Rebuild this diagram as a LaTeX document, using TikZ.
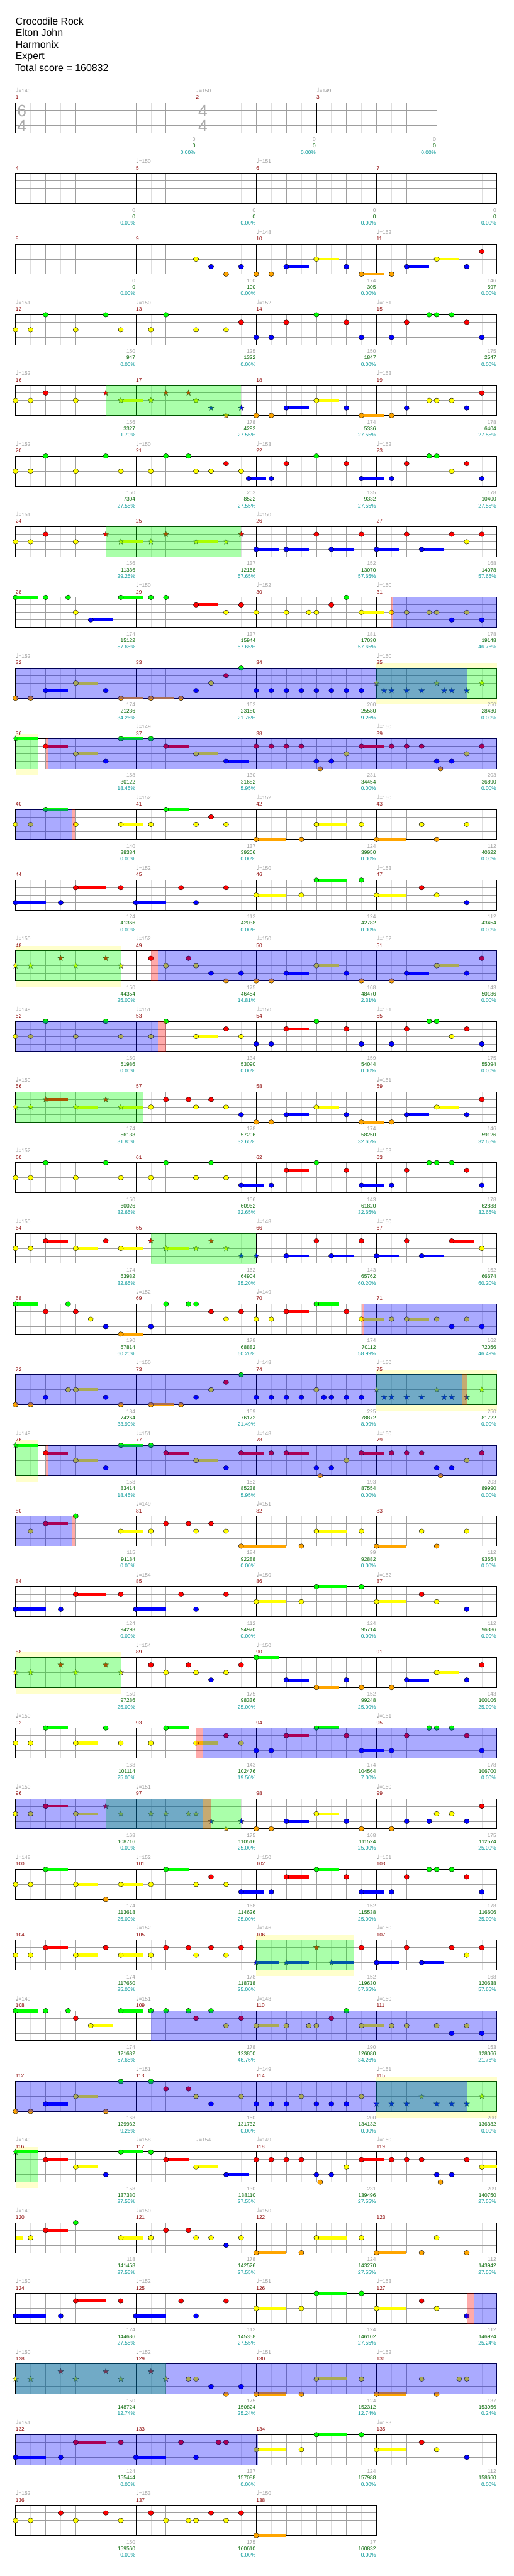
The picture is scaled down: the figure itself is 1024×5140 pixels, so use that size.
\documentclass[tikz,border=0pt]{standalone}
\usepackage{fontspec}
\setmainfont{Liberation Sans}
\newfontfamily\simboli{DejaVu Sans}
\usetikzlibrary{shapes.geometric}

\definecolor{corsia0}{RGB}{0,255,0}
\definecolor{corsia1}{RGB}{255,0,0}
\definecolor{corsia2}{RGB}{255,255,0}
\definecolor{corsia3}{RGB}{0,0,255}
\definecolor{corsia4}{RGB}{255,165,0}
\definecolor{rossobattuta}{RGB}{139,0,0}
\definecolor{verdepunti}{RGB}{0,100,0}
\definecolor{turchese}{RGB}{0,150,150}
\definecolor{grigiotesto}{RGB}{155,155,155}
\definecolor{grigiolinea}{RGB}{158,158,158}
\definecolor{grigiochiaro}{RGB}{222,222,222}
\definecolor{grigiosegno}{RGB}{170,170,170}
\definecolor{giallino}{RGB}{255,255,204}

% una riga di battute: \T e' il bordo alto del rigo (in px, verso il basso)
\newcommand{\riga}[1]{\def\R{#1}\pgfmathsetmacro{\T}{205+141*(#1-1)}}

\newcommand{\pentagramma}[2]{%
  \pgfmathsetmacro{\xfine}{31+60*#1}%
  \pgfmathtruncatemacro{\nmezzi}{2*#1-1}%
  \pgfmathtruncatemacro{\nbatt}{#1-1}%
  \fill[white] (31,\T) rectangle (\xfine,{\T+60});
  \foreach \k in {1,...,\nmezzi} \draw[lineamezzo] ({31+30*\k},\T) -- ++(0,60);
  \foreach \k in {1,...,\nbatt} \draw[lineabattito] ({31+60*\k},\T) -- ++(0,60);
  \foreach \k in {1,2,3} \draw[lineacorsia] (31,{\T+15*\k}) -- (\xfine,{\T+15*\k});
  \foreach \k in {#2} \draw[lineabattuta] ({31+60*\k},\T) -- ++(0,60);
  \draw[bordo] (31,\T) rectangle (\xfine,{\T+60});
}

\newcommand{\battute}[2]{\foreach \jj in {1,...,#2}{%
  \pgfmathtruncatemacro{\mis}{#1+\jj-1}%
  \node[numerobattuta] (bat\mis) at ({31+240*(\jj-1)},{\T-7}) {\mis};}}

\newcommand{\tempi}[1]{\foreach \pos/\val [count=\jj] in {#1}
  \node[tempo] (tem\R-\jj) at ({31+60*\pos},{\T-20}) {{\simboli\fontsize{12.5}{12}\selectfont ♩}=\val};}

\newcommand{\gemme}[1]{\foreach \pos/\cor in {#1}
  \draw[nota, fill=corsia\cor] ({31+60*\pos},{\T+15*\cor}) ellipse [x radius=5.2pt, y radius=4.7pt];}

\newcommand{\sostenute}[1]{\foreach \pos/\cor/\dur in {#1}{%
  \fill[corsia\cor] ({31+60*\pos},{\T+15*\cor-3}) rectangle ({31+60*(\pos+\dur)},{\T+15*\cor+3});
  \draw[nota, fill=corsia\cor] ({31+60*\pos},{\T+15*\cor}) ellipse [x radius=5.2pt, y radius=4.7pt];}}

\newcommand{\stelle}[1]{\foreach \pos/\cor in {#1}
  \node[stellina, fill=corsia\cor] at ({31+60*\pos},{\T+15*\cor}) {};}

\newcommand{\stellesost}[1]{\foreach \pos/\cor/\dur in {#1}{%
  \fill[corsia\cor] ({31+60*\pos},{\T+15*\cor-3}) rectangle ({31+60*(\pos+\dur)},{\T+15*\cor+3});
  \node[stellina, fill=corsia\cor] at ({31+60*\pos},{\T+15*\cor}) {};}}

\newcommand{\coda}[3]{\fill[corsia#2] ({31+60*#1},{\T+15*#2-3}) rectangle ({31+60*#3},{\T+15*#2+3});}

\newcommand{\zona}[3]{\fill[#1] ({31+60*#2},{\T-0.7}) rectangle ({31+60*#3},{\T+60.7});}

\newcommand{\alone}[2]{\fill[giallino] ({31+60*#1},{\T-10}) rectangle ({31+60*#2},{\T+72});}

\newcommand{\punteggi}[1]{\foreach \pos/\pun/\tot/\per [count=\jj] in {#1}{%
  \node[punti] (pun\R-\jj) at ({30+60*\pos},{\T+77}) {\pun};
  \node[totale] (tot\R-\jj) at ({30+60*\pos},{\T+89.7}) {\tot};
  \node[percento] (per\R-\jj) at ({30+60*\pos},{\T+102.7}) {\per\%};}}

\begin{document}
\begin{tikzpicture}[
  x=1pt, y=-1pt,
  testino/.style={font=\fontsize{10.5}{12}\selectfont, inner sep=0pt},
  titoletto/.style={font=\fontsize{20}{24}\selectfont, anchor=base west, inner sep=0pt},
  numerobattuta/.style={testino, text=rossobattuta, anchor=base west},
  tempo/.style={testino, text=grigiotesto, anchor=base west},
  punti/.style={testino, text=grigiotesto, anchor=base east},
  totale/.style={testino, text=verdepunti, anchor=base east},
  percento/.style={testino, text=turchese, anchor=base east},
  segnotempo/.style={font=\fontsize{33}{33}\selectfont, text=grigiosegno, inner sep=0pt},
  lineamezzo/.style={draw=grigiochiaro, line width=0.7pt},
  lineabattito/.style={draw=grigiolinea, line width=0.8pt},
  lineacorsia/.style={draw=grigiolinea, line width=1pt},
  lineabattuta/.style={draw=black, line width=0.8pt},
  bordo/.style={draw=black, line width=1.3pt},
  nota/.style={draw=black, line width=0.5pt},
  stellina/.style={star, star points=5, star point ratio=2.4, minimum size=12pt,
                   inner sep=0pt, draw=black!80, line width=0.4pt},
  zonaverde/.style={fill=corsia0, fill opacity=0.333},
  zonablu/.style={fill=corsia3, fill opacity=0.333},
  zonarossa/.style={fill=corsia1, fill opacity=0.333}
]

% cornice della pagina, come l'immagine originale
\fill[white] (0,0) rectangle (1024,5140);
\useasboundingbox (0,0) rectangle (1024,5140);

% ---- intestazione ----------------------------------------------------
\node[titoletto] (titolo)  at (31,49.3)  {Crocodile Rock};
\node[titoletto] (artista) at (31,72.6)  {Elton John};
\node[titoletto] (autore)  at (31,95.9)  {Harmonix};
\node[titoletto] (livello) at (31,119.2) {Expert};
\node[titoletto] (totale)  at (30,142.5) {Total score = 160832};

% ---- riga 1: battute 1-3 (6/4 poi 4/4) -------------------------------
\riga{1}
\pentagramma{14}{6,10}
\node[segnotempo] (ts1a) at (43.5,{\T+16}) {6};
\node[segnotempo] (ts1b) at (43.5,{\T+46}) {4};
\node[segnotempo] (ts2a) at (404.5,{\T+16}) {4};
\node[segnotempo] (ts2b) at (404.5,{\T+46}) {4};
\node[numerobattuta] (bat1) at (31,{\T-7}) {1};
\node[numerobattuta] (bat2) at (391,{\T-7}) {2};
\node[numerobattuta] (bat3) at (631,{\T-7}) {3};
\tempi{0/140,6/150,10/149}
\punteggi{6/0/0/0.00,10/0/0/0.00,14/0/0/0.00}

% ---- riga 2: battute 4-7 ---------------------------------------------
\riga{2}
\pentagramma{16}{4,8,12}
\battute{4}{4}
\tempi{4/150,8/151}
\punteggi{4/0/0/0.00,8/0/0/0.00,12/0/0/0.00,16/0/0/0.00}

% ---- riga 3: battute 8-11 --------------------------------------------
\riga{3}
\pentagramma{16}{4,8,12}
\battute{8}{4}
\tempi{8/148,12/152}
\sostenute{9/3/0.75,10/2/0.75,11.5/4/0.75,13/3/0.75,14/2/0.75}
\gemme{6/2,6.5/3,7.5/3,7/4,8/4,8.5/4,11/3,12.5/4,15/3,15.5/1}
\punteggi{4/0/0/0.00,8/100/100/0.00,12/174/305/0.00,16/146/597/0.00}

% ---- riga 4: battute 12-15 -------------------------------------------
\riga{4}
\pentagramma{16}{4,8,12}
\battute{12}{4}
\tempi{0/151,4/150,8/152,12/151}
\gemme{1/0,3/0,5/0,10/0,13.75/0,14/0,14.5/0,7.5/1,9/1,11/1,13/1,15/1,0/2,0.5/2,2/2,3.5/2,4.5/2,6/2,7/2,8/3,8.5/3,11.5/3,12.5/3,15.5/3}
\punteggi{4/150/947/0.00,8/125/1322/0.00,12/150/1847/0.00,16/175/2547/0.00}

% ---- riga 5: battute 16-19 -------------------------------------------
\riga{5}
\pentagramma{16}{4,8,12}
\battute{16}{4}
\tempi{0/152,12/153}
\gemme{0/2,0.5/2,2/2,1/1,8/4,8.5/4,11/3,12.5/4,13/3,13.75/2,14/2,14.5/2,15/3,15.5/1}
\sostenute{9/3/0.75,10/2/0.75,11.5/4/0.75}
\stellesost{3.5/2/0.75}
\stelle{3/1,5/1,5.75/1,4.5/2,6/2,6.5/3,7.5/3,7/4}
\zona{zonaverde}{3}{7.5}
\punteggi{4/156/3327/1.70,8/178/4292/27.55,12/174/5336/27.55,16/178/6404/27.55}

% ---- riga 6: battute 20-23 -------------------------------------------
\riga{6}
\pentagramma{16}{4,8,12}
\battute{20}{4}
\tempi{0/152,4/150,8/153,12/152}
\sostenute{7.75/3/0.57,11.5/3/0.75}
\gemme{1/0,3/0,5/0,5.75/0,10/0,13.75/0,14/0,7/1,9/1,11/1,13/1,15/1,0/2,0.5/2,2/2,3.5/2,4.5/2,6/2,6.5/2,7.5/2,14.5/2,8.5/3,12.5/3,15.5/3}
\punteggi{4/150/7304/27.55,8/203/8522/27.55,12/135/9332/27.55,16/178/10400/27.55}

% ---- riga 7: battute 24-27 -------------------------------------------
\riga{7}
\pentagramma{16}{4,8,12}
\battute{24}{4}
\tempi{0/151,8/150}
\gemme{0/2,0.5/2,2/2,1/1,10/1,11.5/1,13/1,14.5/1,15.5/1,15/2}
\sostenute{8/3/0.75,9/3/0.75,10.5/3/0.75,12/3/0.75,13.5/3/0.75}
\stellesost{3.5/2/0.75,6/2/0.75}
\stelle{3/1,5/1,7.5/1,4.5/2,7/2}
\zona{zonaverde}{3}{7.5}
\punteggi{4/156/11336/29.25,8/137/12158/57.65,12/152/13070/57.65,16/168/14078/57.65}

% ---- riga 8: battute 28-31 -------------------------------------------
\riga{8}
\pentagramma{16}{4,8,12}
\battute{28}{4}
\tempi{4/150,8/152,12/150}
\sostenute{0/0/0.75,3.5/0/0.75,11.5/2/0.75,2.5/3/0.75,6/1/0.75}
\gemme{1/0,1.75/0,4.5/0,5/0,11/0,2/2,7/2,8/2,9/2,9.75/2,10/2,12.5/2,13/2,13.75/2,14/2,15/2,14.5/3,15.5/3,7.5/1,10.5/1}
\zona{zonarossa}{12.5}{12.53}
\zona{zonablu}{12.53}{16}
\punteggi{4/174/15122/57.65,8/137/15944/57.65,12/181/17030/57.65,16/178/19148/46.76}

% ---- riga 9: battute 32-35 -------------------------------------------
\riga{9}
\alone{12}{16}
\pentagramma{16}{4,8,12}
\battute{32}{4}
\tempi{0/152,12/150}
\sostenute{3.5/4/0.75,4.5/4/0.75,1/3/0.75,2/2/0.75}
\gemme{0/4,0.5/4,5.5/4,3/3,6/3,8/3,8.5/3,9/3,9.5/3,10/3,10.5/3,11/3,11.5/3,6.5/2,7/1,7.5/0}
\stelle{12/2,14/2,15.5/2,12.25/3,12.5/3,13/3,13.5/3,14.25/3,14.5/3,15/3}
\zona{zonaverde}{12}{16}
\zona{zonablu}{0}{15}
\punteggi{4/174/21236/34.26,8/162/23180/21.76,12/200/25580/9.26,16/250/28430/0.00}

% ---- riga 10: battute 36-39 ------------------------------------------
\riga{10}
\alone{0}{0.75}
\pentagramma{16}{4,8,12}
\battute{36}{4}
\tempi{4/149,12/150}
\stellesost{0/0/0.75}
\sostenute{1/1/0.75,2/2/0.75,3.5/0/0.75,5/1/0.75,6/2/0.75,7/3/0.75,11.5/1/0.75}
\gemme{3/3,4.5/0,8/1,8.5/1,9/1,9.5/1,10/3,10.5/3,10.125/4,11/2,12.5/1,13/1,13.5/1,15.5/1,14/3,14.5/3,14.125/4,15/2}
\zona{zonaverde}{0}{0.75}
\zona{zonarossa}{1}{1.08}
\zona{zonablu}{1.08}{16}
\punteggi{4/158/30122/18.45,8/130/31682/5.95,12/231/34454/0.00,16/203/36890/0.00}

% ---- riga 11: battute 40-43 ------------------------------------------
\riga{11}
\pentagramma{16}{4,8,12}
\battute{40}{4}
\tempi{4/152,8/152,12/150}
\sostenute{3.5/2/0.75,10/2/1,1/0/0.75,5/0/0.75,8/4/1,12/4/1}
\gemme{0/2,0.5/2,2/2,4.5/2,6/2,7/2,11.5/2,13.5/2,15/2,6.5/1,9.5/4,14/4}
\zona{zonablu}{0}{1.89}
\zona{zonarossa}{1.89}{2}
\punteggi{4/140/38384/0.00,8/137/39206/0.00,12/124/39950/0.00,16/112/40622/0.00}

% ---- riga 12: battute 44-47 ------------------------------------------
\riga{12}
\pentagramma{16}{4,8,12}
\battute{44}{4}
\tempi{4/152,8/150,12/153}
\sostenute{0/3/1,4/3/1,2/1/1,8/2/1,12/2/1,10/0/1}
\gemme{1.5/3,6/3,15/3,3.5/1,5.5/1,7/1,13.5/1,9.5/2,14/2,11.5/0}
\punteggi{4/124/41366/0.00,8/112/42038/0.00,12/124/42782/0.00,16/112/43454/0.00}

% ---- riga 13: battute 48-51 ------------------------------------------
\riga{13}
\alone{0}{3.5}
\pentagramma{16}{4,8,12}
\battute{48}{4}
\tempi{0/150,4/152,8/150,12/152}
\stelle{0/2,0.5/2,2/2,3.5/2,1.5/1,3/1}
\sostenute{10/2/0.75,14/2/0.75,9/3/0.75,13/3/0.75}
\gemme{4.5/1,5.75/1,15.5/1,5/2,6/2,6.5/3,7.5/3,11/3,15/3,7/4,8/4,8.5/4,11.5/4,12.5/4}
\zona{zonaverde}{0}{3.5}
\zona{zonarossa}{4.5}{4.73}
\zona{zonablu}{4.73}{16}
\punteggi{4/150/44354/25.00,8/175/46454/14.81,12/168/48470/2.31,16/143/50186/0.00}

% ---- riga 14: battute 52-55 ------------------------------------------
\riga{14}
\pentagramma{16}{4,8,12}
\battute{52}{4}
\tempi{0/149,4/151,8/150,12/151}
\sostenute{6/2/0.75,9/1/0.75}
\gemme{0/2,0.5/2,2/2,3.5/2,4.5/2,7.5/2,14.5/2,1/0,3/0,5/0,10/0,13.75/0,14/0,7/1,11/1,13/1,15/1,8/3,8.5/3,11.5/3,12.5/3,15.5/3}
\zona{zonablu}{0}{4.73}
\zona{zonarossa}{4.73}{5}
\punteggi{4/150/51986/0.00,8/134/53090/0.00,12/159/54044/0.00,16/175/55094/0.00}

% ---- riga 15: battute 56-59 ------------------------------------------
\riga{15}
\pentagramma{16}{4,8,12}
\battute{56}{4}
\tempi{0/150,12/151}
\stellesost{2/2/0.75,3.5/2/0.75,1/1/0.75}
\stelle{0/2,0.5/2,3/1}
\sostenute{10/2/0.75,14/2/0.75,9/3/0.75,13/3/0.75,11.5/4/0.75}
\gemme{4.5/2,6/2,7/2,5/1,5.75/1,6.5/1,15.5/1,7.5/3,11/3,15/3,8/4,8.5/4,12.5/4}
\zona{zonaverde}{0}{4.25}
\punteggi{4/174/56138/31.80,8/178/57206/32.65,12/174/58250/32.65,16/146/59126/32.65}

% ---- riga 16: battute 60-63 ------------------------------------------
\riga{16}
\pentagramma{16}{4,8,12}
\battute{60}{4}
\tempi{0/152,12/153}
\sostenute{7.5/3/0.75,11.5/3/0.75,9/1/0.75}
\gemme{0/2,0.5/2,2/2,3.5/2,4.5/2,6/2,7/2,1/0,3/0,5/0,6.5/0,10/0,13.75/0,14/0,14.5/0,8.5/3,12.5/3,15.5/3,11/1,13/1,15/1}
\punteggi{4/150/60026/32.65,8/156/60962/32.65,12/143/61820/32.65,16/178/62888/32.65}

% ---- riga 17: battute 64-67 ------------------------------------------
\riga{17}
\pentagramma{16}{4,8,12}
\battute{64}{4}
\tempi{0/150,8/148,12/150}
\sostenute{2/2/0.75,3.5/2/0.75,1/1/0.75,14.5/1/0.75,9/3/0.75,10.5/3/0.75,12/3/0.75,13.5/3/0.75}
\gemme{0/2,0.5/2,15.5/2,3/1,10/1,11.5/1,13/1}
\stellesost{5/2/0.75}
\stelle{4.5/1,6.5/1,6/2,7/2,7.5/3,8/3}
\zona{zonaverde}{4.5}{8}
\punteggi{4/174/63932/32.65,8/162/64904/35.20,12/143/65762/60.20,16/152/66674/60.20}

% ---- riga 18: battute 68-71 ------------------------------------------
\riga{18}
\pentagramma{16}{4,8,12}
\battute{68}{4}
\tempi{4/152,8/149}
\sostenute{0/0/0.75,10/0/0.75,9/1/0.75,11.5/2/0.75,13/2/0.75,3.5/4/0.75}
\gemme{1.75/0,5/0,5.75/0,6/0,1/1,2/1,6.5/1,7.5/1,11/1,2.5/2,7/2,8/2,8.5/2,12.5/2,14/2,15/2,3/3,4.5/3,14.5/3,15.5/3}
\zona{zonarossa}{11.5}{11.6}
\zona{zonablu}{11.6}{16}
\punteggi{4/190/67814/60.20,8/178/68882/60.20,12/174/70112/58.99,16/162/72056/46.49}

% ---- riga 19: battute 72-75 ------------------------------------------
\riga{19}
\alone{12}{16}
\pentagramma{16}{4,8,12}
\battute{72}{4}
\tempi{4/150,8/148,12/150}
\sostenute{4.5/4/0.75,2/2/0.75}
\gemme{0/4,0.5/4,3.5/4,5.5/4,1/3,3/3,6/3,8/3,8.5/3,9/3,9.5/3,10.25/3,10.5/3,11/3,11.5/3,1.75/2,6.5/2,10/2,7/1,7.5/0}
\stelle{12/2,14/2,15.5/2,12.25/3,12.5/3,13/3,13.5/3,14.25/3,14.5/3,15/3}
\zona{zonaverde}{12}{16}
\zona{zonablu}{0}{14.86}
\zona{zonarossa}{14.86}{15}
\punteggi{4/184/74264/33.99,8/159/76172/21.49,12/225/78872/8.99,16/250/81722/0.00}

% ---- riga 20: battute 76-79 ------------------------------------------
\riga{20}
\alone{0}{0.75}
\pentagramma{16}{4,8,12}
\battute{76}{4}
\tempi{0/149,4/151,8/148,12/150}
\stellesost{0/0/0.75}
\sostenute{1/1/0.75,5/1/0.75,7.5/1/0.75,9/1/0.75,11.5/1/0.75,2/2/0.75,6/2/0.75,3.5/0/0.75}
\gemme{8.5/1,12.5/1,13/1,13.5/1,15.5/1,11/2,15/2,3/3,7/3,10/3,10.5/3,14/3,14.5/3,4.5/0,10.125/4,14.125/4}
\zona{zonaverde}{0}{0.75}
\zona{zonarossa}{1}{1.08}
\zona{zonablu}{1.08}{16}
\punteggi{4/158/83414/18.45,8/152/85238/5.95,12/193/87554/0.00,16/203/89990/0.00}

% ---- riga 21: battute 80-83 ------------------------------------------
\riga{21}
\pentagramma{16}{4,8,12}
\battute{80}{4}
\tempi{4/149,8/151}
\sostenute{3.5/2/0.75,10/2/1,1/1/0.75,7.5/4/1.5,12/4/1}
\gemme{0.5/2,4.5/2,6/2,7/2,11.5/2,13.5/2,15/2,5/1,5.75/1,6.5/1,2/0,9.5/4,14/4}
\zona{zonablu}{0}{1.89}
\zona{zonarossa}{1.89}{2}
\punteggi{4/115/91184/0.00,8/184/92288/0.00,12/99/92882/0.00,16/112/93554/0.00}

% ---- riga 22: battute 84-87 ------------------------------------------
\riga{22}
\pentagramma{16}{4,8,12}
\battute{84}{4}
\tempi{4/154,8/150,12/152}
\sostenute{0/3/1,4/3/1,2/1/1,8/2/1,12/2/1,10/0/1}
\gemme{1.5/3,6/3,15/3,3.5/1,5.5/1,7/1,13.5/1,9.5/2,14/2,11.5/0}
\punteggi{4/124/94298/0.00,8/112/94970/0.00,12/124/95714/0.00,16/112/96386/0.00}

% ---- riga 23: battute 88-91 ------------------------------------------
\riga{23}
\alone{0}{3.5}
\pentagramma{16}{4,8,12}
\battute{88}{4}
\tempi{4/154,8/150}
\stelle{0/2,0.5/2,2/2,3.5/2,1.5/1,3/1}
\sostenute{14/2/0.75,9/3/0.75,13/3/0.75,8/0/0.75,10/4/0.75}
\gemme{4.5/1,5.75/1,7.5/1,15.5/1,5/2,6/2,7/2,6.5/3,11/3,15/3,11.5/4,12.5/4}
\zona{zonaverde}{0}{3.5}
\punteggi{4/150/97286/25.00,8/175/98336/25.00,12/152/99248/25.00,16/143/100106/25.00}

% ---- riga 24: battute 92-95 ------------------------------------------
\riga{24}
\pentagramma{16}{4,8,12}
\battute{92}{4}
\tempi{0/150,12/151}
\sostenute{2/2/0.75,6/2/0.75,1/0/0.75,5/0/0.75,10/0/0.75,9/1/0.75,11.5/3/0.75}
\gemme{0/2,0.5/2,3.5/2,4.5/2,7.5/2,3/0,13.75/0,14/0,14.5/0,7/1,11/1,13/1,15/1,8/3,8.5/3,12.5/3,15.5/3}
\zona{zonarossa}{6}{6.22}
\zona{zonablu}{6.22}{16}
\punteggi{4/168/101114/25.00,8/143/102476/19.50,12/174/104564/7.00,16/178/106700/0.00}

% ---- riga 25: battute 96-99 ------------------------------------------
\riga{25}
\pentagramma{16}{4,8,12}
\battute{96}{4}
\tempi{0/150,4/151,12/150}
\sostenute{2/2/0.75,10/2/0.75,1/1/0.75,9/3/0.75}
\gemme{0/2,0.5/2,14/2,14.5/2,15.5/1,8/4,8.5/4,11.5/4,12.5/4,11/3,13/3,13.75/3,15/3}
\stelle{3/1,3.5/2,4.5/2,5/2,5.75/2,6/2,6.5/3,7.5/3,7/4}
\zona{zonaverde}{3}{7.5}
\zona{zonablu}{0}{6.22}
\zona{zonarossa}{6.22}{6.5}
\punteggi{4/168/108716/0.00,8/175/110516/25.00,12/168/111524/25.00,16/175/112574/25.00}

% ---- riga 26: battute 100-103 ----------------------------------------
\riga{26}
\pentagramma{16}{4,8,12}
\battute{100}{4}
\tempi{0/148,4/152,8/150,12/151}
\sostenute{2/2/0.75,3.5/2/0.75,1/0/0.75,5/0/0.75,10/0/0.75,9/1/0.75,7.5/3/0.75,11.5/3/0.75}
\gemme{0/2,0.5/2,4.5/2,6/2,7/2,13.75/0,14/0,14.5/0,3/4,6.5/1,11/1,13/1,15/1,8.5/3,12.5/3,15.5/3}
\punteggi{4/174/113618/25.00,8/168/114626/25.00,12/152/115538/25.00,16/178/116606/25.00}

% ---- riga 27: battute 104-107 ----------------------------------------
\riga{27}
\alone{8}{11.25}
\pentagramma{16}{4,8,12}
\battute{104}{4}
\tempi{4/152,8/146,12/150}
\sostenute{2/2/0.75,3.5/2/0.75,1/1/0.75,12/3/0.75,13.5/3/0.75}
\gemme{0/2,0.5/2,4.5/2,6/2,7/2,15/2,3/1,5/1,5.75/1,6.5/1,7.5/1,11.5/1,13/1,14.5/1,15.5/1}
\stellesost{8/3/0.75,9/3/0.75,10.5/3/0.75}
\stelle{10/1}
\zona{zonaverde}{8}{11.25}
\punteggi{4/174/117650/25.00,8/178/118718/25.00,12/152/119630/57.65,16/168/120638/57.65}

% ---- riga 28: battute 108-111 ----------------------------------------
\riga{28}
\pentagramma{16}{4,8,12}
\battute{108}{4}
\tempi{0/149,4/151,8/148,12/150}
\sostenute{0/0/0.75,3.5/0/0.75,2.5/2/0.75,8/2/0.75,11.5/2/0.75}
\gemme{1/0,1.75/0,4.5/0,5/0,5.75/0,6.5/0,11/0,2/1,6/1,7.5/1,10.5/1,7/2,9/2,9.75/2,10/2,12.5/2,13/2,14/2,15/2,14.5/3,15.5/3}
\zona{zonablu}{4.5}{16}
\punteggi{4/174/121682/57.65,8/178/123800/46.76,12/190/126080/34.26,16/153/128066/21.76}

% ---- riga 29: battute 112-115 ----------------------------------------
\riga{29}
\alone{12}{16}
\pentagramma{16}{4,8,12}
\battute{112}{4}
\tempi{4/151,8/149,12/151}
\sostenute{1/3/0.75,2/2/0.75}
\gemme{0/4,0.5/4,3/4,6.5/3,8/3,8.5/3,9/3,10/3,10.5/3,11/3,6/2,7.5/2,9.5/2,11.5/2,3.5/0,4.5/0,5/1,5.75/1}
\stelle{12/3,12.5/3,13/3,14/3,14.5/3,15/3,13.5/2,15.5/2}
\zona{zonaverde}{12}{16}
\zona{zonablu}{0}{15}
\punteggi{4/168/129932/9.26,8/150/131732/0.00,12/200/134132/0.00,16/200/136382/0.00}

% ---- riga 30: battute 116-119 ----------------------------------------
\riga{30}
\alone{0}{0.75}
\pentagramma{16}{4,8,12}
\battute{116}{4}
\tempi{0/149,4/158,6/154,8/149,12/150}
\stellesost{0/0/0.75}
\sostenute{1/1/0.75,5/1/0.75,11.5/1/0.75,2/2/0.75,6/2/0.75,15.5/2/0.5,7/3/0.75,3.5/0/0.75}
\gemme{8/1,8.5/1,9/1,9.5/1,12.5/1,13/1,13.5/1,15/1,11/2,3/3,10/3,10.5/3,14/3,14.5/3,4.5/0,10.125/4,14.125/4}
\zona{zonaverde}{0}{0.75}
\punteggi{4/158/137330/27.55,8/130/138110/27.55,12/231/139496/27.55,16/209/140750/27.55}

% ---- riga 31: battute 120-123 ----------------------------------------
\riga{31}
\pentagramma{16}{4,8,12}
\battute{120}{4}
\tempi{0/149,4/150,8/150}
\coda{0}{2}{0.25}
\sostenute{3.5/2/0.75,10/2/1,1/1/0.75,8/4/1,12/4/1}
\gemme{0.5/2,4.5/2,6/2,6.5/2,7.5/2,11.5/2,14/2,5/1,5.75/1,2/0,7/3,9.5/4,13.5/4,15/4}
\punteggi{4/118/141458/27.55,8/178/142526/27.55,12/124/143270/27.55,16/112/143942/27.55}

% ---- riga 32: battute 124-127 ----------------------------------------
\riga{32}
\pentagramma{16}{4,8,12}
\battute{124}{4}
\tempi{0/150,4/152,8/151,12/153}
\sostenute{0/3/1,4/3/1,2/1/1,8/2/1,12/2/1,10/0/1}
\gemme{1.5/3,6/3,15/3,3.5/1,5.5/1,7/1,13.5/1,9.5/2,14/2,11.5/0}
\zona{zonarossa}{15}{15.25}
\zona{zonablu}{15.25}{16}
\punteggi{4/124/144686/27.55,8/112/145358/27.55,12/124/146102/27.55,16/112/146924/25.24}

% ---- riga 33: battute 128-131 ----------------------------------------
\riga{33}
\pentagramma{16}{4,8,12}
\battute{128}{4}
\tempi{0/150,4/152,8/151,12/152}
\stelle{0/2,0.5/2,2/2,3.5/2,5/2,1.5/1,3/1,4.5/1}
\sostenute{10/2/1,8/4/1,12/4/1}
\gemme{5.75/2,6/2,11.5/2,13.5/2,14.75/2,15/2,6.5/3,7.5/3,7/4,9.5/4,14/4}
\zona{zonaverde}{0}{5}
\zona{zonablu}{0}{16}
\punteggi{4/150/148724/12.74,8/175/150824/25.24,12/124/152312/12.74,16/137/153956/0.24}

% ---- riga 34: battute 132-135 ----------------------------------------
\riga{34}
\pentagramma{16}{4,8,12}
\battute{132}{4}
\tempi{0/151,12/153}
\sostenute{0/3/1,4/3/1,2/1/1,8/2/1,12/2/1,10/0/1}
\gemme{1.5/3,6/3,15/3,3.5/1,5.5/1,6.75/1,7/1,13.5/1,9.5/2,14/2,11.5/0}
\zona{zonablu}{0}{8.05}
\punteggi{4/124/155444/0.00,8/137/157088/0.00,12/124/157988/0.00,16/112/158660/0.00}

% ---- riga 35: battute 136-138 ----------------------------------------
\riga{35}
\pentagramma{12}{4,8}
\battute{136}{3}
\tempi{0/152,4/153,8/150}
\sostenute{8/4/1}
\gemme{0/2,0.5/2,2/2,3.5/2,5/2,5.75/2,6/2,7/2,1.5/1,3/1,4.5/1,6.5/1,7.5/1}
\punteggi{4/150/159560/0.00,8/175/160610/0.00,12/37/160832/0.00}

\end{tikzpicture}
\end{document}
